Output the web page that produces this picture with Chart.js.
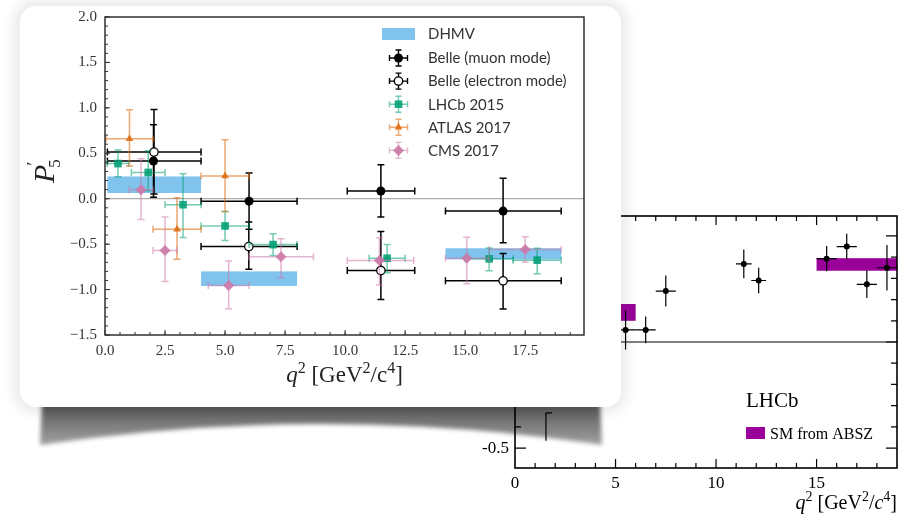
<!DOCTYPE html>
<html>
<head>
<meta charset="utf-8">
<script src="https://cdn.jsdelivr.net/npm/chart.js@4.4.1/dist/chart.umd.min.js"></script>
<style>
  html, body { margin: 0; padding: 0; background: #fff; width: 911px; height: 520px; overflow: hidden; }
  canvas { position: absolute; left: 0; top: 0; }
  #bgChart { z-index: 1; }
  #shadowWrap { position: absolute; left: 40px; top: 401px; width: 562px; height: 46px; filter: blur(2px); z-index: 0; }
  #shadow { width: 100%; height: 100%;
    background: linear-gradient(#474747, #6e6e6e 35%, #a6a6a6);
    clip-path: path('M2,0 L560,0 L562,44 Q281,2 0,44 Z'); }
  #card { position: absolute; left: 20px; top: 6px; width: 601px; height: 401px; background: #fff;
    border-radius: 16px; box-shadow: 0 0 12px 7px rgba(0,0,0,0.08); z-index: 2; }
  #mainChart { z-index: 3; }
</style>
</head>
<body>
<div id="shadowWrap"><div id="shadow"></div></div>
<canvas id="bgChart" width="911" height="520"></canvas>
<div id="card"></div>
<canvas id="mainChart" width="911" height="520"></canvas>

<script>
/* =======================
   DATA - main plot (P5')
======================= */

// DHMV prediction bands
const dhmvLo  = [0.1, 4.0, 14.18];
const dhmvHi  = [4.0, 8.0, 19.0];
const dhmvMin = [0.063, -0.96, -0.668];
const dhmvMax = [0.245, -0.80, -0.545];

// Belle (muon mode)
const muQ2   = [2.02, 6.0, 11.49, 16.58];
const muQ2Lo = [0.1, 4.0, 10.09, 14.18];
const muQ2Hi = [4.0, 8.0, 12.9, 19.0];
const muP5   = [0.415, -0.027, 0.085, -0.136];
const muUp   = [0.40, 0.31, 0.29, 0.36];
const muDn   = [0.40, 0.31, 0.285, 0.35];

// Belle (electron mode)
const elQ2   = [2.04, 5.99, 11.49, 16.58];
const elQ2Lo = [0.1, 4.0, 10.09, 14.18];
const elQ2Hi = [4.0, 8.0, 12.9, 19.0];
const elP5   = [0.513, -0.527, -0.79, -0.904];
const elUp   = [0.47, 0.27, 0.43, 0.30];
const elDn   = [0.46, 0.25, 0.32, 0.31];

// LHCb 2015
const lhcbQ2   = [0.54, 1.8, 3.25, 5.0, 7.0, 11.75, 16.0, 18.0];
const lhcbQ2Lo = [0.1, 1.1, 2.5, 4.0, 6.0, 11.0, 15.0, 17.0];
const lhcbQ2Hi = [0.98, 2.5, 4.0, 6.0, 8.0, 12.5, 17.0, 19.0];
const lhcbP5   = [0.387, 0.289, -0.066, -0.300, -0.505, -0.655, -0.662, -0.676];
const lhcbUp   = [0.15, 0.24, 0.34, 0.16, 0.12, 0.15, 0.12, 0.13];
const lhcbDn   = [0.145, 0.20, 0.36, 0.16, 0.12, 0.16, 0.13, 0.15];

// ATLAS 2017
const atlasQ2   = [1.02, 3.0, 5.0];
const atlasQ2Lo = [0.04, 2.0, 4.0];
const atlasQ2Hi = [2.0, 4.0, 6.0];
const atlasP5   = [0.66, -0.335, 0.25];
const atlasUp   = [0.32, 0.345, 0.40];
const atlasDn   = [0.30, 0.33, 0.39];

// CMS 2017
const cmsQ2   = [1.5, 2.5, 5.15, 7.33, 11.43, 15.07, 17.5];
const cmsQ2Lo = [1.0, 2.0, 4.3, 6.0, 10.09, 14.18, 16.0];
const cmsQ2Hi = [2.0, 3.0, 6.0, 8.68, 12.86, 16.0, 19.0];
const cmsP5   = [0.10, -0.57, -0.955, -0.64, -0.68, -0.655, -0.56];
const cmsUp   = [0.34, 0.37, 0.27, 0.20, 0.25, 0.23, 0.14];
const cmsDn   = [0.33, 0.34, 0.255, 0.23, 0.27, 0.28, 0.14];

/* =======================
   DATA - background LHCb plot
======================= */

const bgQ2    = [5.5, 6.5, 7.5, 11.38, 12.12, 15.5, 16.5, 17.5, 18.5];
const bgQ2Err = [0.5, 0.5, 0.5, 0.39, 0.37, 0.5, 0.5, 0.5, 0.5];
const bgVal   = [0.057, 0.057, 0.24, 0.368, 0.29, 0.393, 0.45, 0.272, 0.35];
const bgErr   = [0.092, 0.063, 0.073, 0.068, 0.06, 0.059, 0.06, 0.065, 0.107];
const bgHidQ2  = [1.54];
const bgHidVal = [-0.40];
const bgHidErr = [0.066];
const smLo  = [4.0, 15.0];
const smHi  = [6.0, 19.0];
const smMin = [0.10, 0.336];
const smMax = [0.179, 0.395];

/* =======================
   CORES / FONTES
======================= */

const C_DHMV = '#80c4ed';
const C_GREEN = 'rgba(0,158,115,0.88)', C_GREEN_E = 'rgba(0,158,115,0.55)';
const C_ORANGE = 'rgba(222,110,20,0.9)', C_ORANGE_E = 'rgba(222,110,20,0.6)';
const C_PINK = 'rgba(204,121,167,0.9)', C_PINK_E = 'rgba(204,121,167,0.55)';
const C_PURPLE = '#990099';
const SERIF = '"Liberation Serif", "DejaVu Serif", serif';
const SANS = 'Lato, "Open Sans", sans-serif';

const pts = (xs, ys) => xs.map((v, i) => ({ x: v, y: ys[i] }));
const fmtTick = v => (v < 0 ? '\u2212' : '') + Math.abs(v).toFixed(1);

function drawErrorBars(ctx, xs, ys, eb) {
  ctx.save();
  ctx.strokeStyle = eb.color;
  ctx.lineWidth = eb.width;
  eb.x.forEach((xv, i) => {
    const px = xs.getPixelForValue(xv);
    const py = ys.getPixelForValue(eb.y[i]);
    const c = eb.cap;
    ctx.beginPath();
    if (eb.xLo) {
      const x0 = xs.getPixelForValue(eb.xLo[i]), x1 = xs.getPixelForValue(eb.xHi[i]);
      ctx.moveTo(x0, py); ctx.lineTo(x1, py);
      if (c) { ctx.moveTo(x0, py - c); ctx.lineTo(x0, py + c); ctx.moveTo(x1, py - c); ctx.lineTo(x1, py + c); }
    }
    const y0 = ys.getPixelForValue(eb.y[i] + eb.up[i]), y1 = ys.getPixelForValue(eb.y[i] - eb.dn[i]);
    ctx.moveTo(px, y0); ctx.lineTo(px, y1);
    if (c) { ctx.moveTo(px - c, y0); ctx.lineTo(px + c, y0); ctx.moveTo(px - c, y1); ctx.lineTo(px + c, y1); }
    if (eb.topCap) { ctx.moveTo(px, y0); ctx.lineTo(px + eb.topCap, y0); }
    ctx.stroke();
  });
  ctx.restore();
}

function drawRuns(ctx, runs, x, baseline, size, family, color, align) {
  const parts = runs.map(r => {
    const fs = r.sup ? size * 0.7 : size;
    const font = (r.italic ? 'italic ' : '') + fs + 'px ' + family;
    ctx.font = font;
    return { t: r.t, font, w: ctx.measureText(r.t).width, dy: r.sup ? -size * 0.4 : 0 };
  });
  const total = parts.reduce((s, p) => s + p.w, 0);
  let cx = align === 'center' ? x - total / 2 : align === 'right' ? x - total : x;
  ctx.fillStyle = color;
  ctx.textAlign = 'left';
  ctx.textBaseline = 'alphabetic';
  parts.forEach(p => { ctx.font = p.font; ctx.fillText(p.t, cx, baseline + p.dy); cx += p.w; });
}

/* =======================
   BACKGROUND LHCb CHART
======================= */

const bgPlugin = {
  id: 'bgLhcb',
  beforeDatasetsDraw(chart) {
    const { ctx, chartArea: a, scales: { x, y } } = chart;
    ctx.save();
    ctx.fillStyle = C_PURPLE;
    smLo.forEach((lo, i) => {
      const x0 = x.getPixelForValue(lo), x1 = x.getPixelForValue(smHi[i]);
      const y0 = y.getPixelForValue(smMax[i]), y1 = y.getPixelForValue(smMin[i]);
      ctx.fillRect(x0, y0, x1 - x0, y1 - y0);
    });
    // linha do zero
    ctx.strokeStyle = '#000';
    ctx.lineWidth = 1.2;
    ctx.beginPath();
    ctx.moveTo(a.left, y.getPixelForValue(0));
    ctx.lineTo(a.right, y.getPixelForValue(0));
    ctx.stroke();
    drawErrorBars(ctx, x, y, { x: bgQ2, xLo: bgQ2.map((v, i) => v - bgQ2Err[i]), xHi: bgQ2.map((v, i) => v + bgQ2Err[i]),
      y: bgVal, up: bgErr, dn: bgErr, color: '#000', width: 1.2, cap: 0 });
    drawErrorBars(ctx, x, y, { x: bgHidQ2, y: bgHidVal, up: bgHidErr, dn: bgHidErr, color: '#000', width: 1.2, cap: 0, topCap: 6 });
    ctx.restore();
  },
  afterDatasetsDraw(chart) {
    const { ctx, chartArea: a, scales: { x, y } } = chart;
    ctx.save();
    ctx.strokeStyle = '#000';
    ctx.lineWidth = 1.6;
    ctx.strokeRect(a.left, a.top, a.right - a.left, a.bottom - a.top);
    ctx.lineWidth = 1.2;
    ctx.beginPath();
    for (let q = 1; q < 19; q++) {
      const px = x.getPixelForValue(q), len = q % 5 === 0 ? 9 : 5;
      ctx.moveTo(px, a.bottom); ctx.lineTo(px, a.bottom - len);
      ctx.moveTo(px, a.top); ctx.lineTo(px, a.top + len);
    }
    for (let k = -5; k <= 5; k++) {
      const py = y.getPixelForValue(k / 10), len = k % 5 === 0 ? 11 : 6;
      ctx.moveTo(a.left, py); ctx.lineTo(a.left + len, py);
      ctx.moveTo(a.right, py); ctx.lineTo(a.right - len, py);
    }
    ctx.stroke();
    ctx.fillStyle = '#000';
    ctx.font = '17px ' + SERIF;
    ctx.textAlign = 'center';
    ctx.textBaseline = 'alphabetic';
    [0, 5, 10, 15].forEach(v => ctx.fillText(String(v), x.getPixelForValue(v), 488));
    ctx.textAlign = 'right';
    ctx.textBaseline = 'middle';
    [-0.5, 0, 0.5].forEach(v => ctx.fillText(v === 0 ? '0' : String(v), a.left - 6, y.getPixelForValue(v)));
    drawRuns(ctx, [{ t: 'q', italic: true }, { t: '2', sup: true }, { t: ' [GeV' }, { t: '2', sup: true },
      { t: '/' }, { t: 'c', italic: true }, { t: '4', sup: true }, { t: ']' }], a.right, 509, 20, SERIF, '#000', 'right');
    ctx.font = '21px ' + SERIF;
    ctx.textAlign = 'left';
    ctx.textBaseline = 'alphabetic';
    ctx.fillStyle = '#000';
    ctx.fillText('LHCb', 746, 407);
    ctx.fillStyle = C_PURPLE;
    ctx.fillRect(746, 427, 19, 12);
    ctx.fillStyle = '#000';
    ctx.font = '16px ' + SERIF;
    ctx.fillText('SM from ABSZ', 770, 439);
    ctx.restore();
  }
};

new Chart(document.getElementById('bgChart'), {
  type: 'scatter',
  data: {
    datasets: [{
      data: pts(bgQ2, bgVal),
      pointStyle: 'circle', pointRadius: 3, backgroundColor: '#000', borderWidth: 0
    }]
  },
  options: {
    responsive: false,
    animation: false,
    layout: { padding: { left: 515, right: 14, top: 216, bottom: 52 } },
    plugins: { legend: { display: false }, tooltip: { enabled: false } },
    scales: {
      x: { type: 'linear', min: 0, max: 19, display: false },
      y: { type: 'linear', min: -0.594, max: 0.594, display: false }
    }
  },
  plugins: [bgPlugin]
});

/* =======================
   MAIN CHART (P5')
======================= */

const legendItems = [
  { label: 'Belle (muon mode)', style: 'circle', r: 4.5, fill: '#000', stroke: '#000', bw: 0, err: '#000' },
  { label: 'Belle (electron mode)', style: 'circle', r: 4.2, fill: '#fff', stroke: '#000', bw: 1.3, err: '#000' },
  { label: 'LHCb 2015', style: 'rect', r: 5.4, fill: C_GREEN, stroke: C_GREEN, bw: 0, err: C_GREEN_E },
  { label: 'ATLAS 2017', style: 'triangle', r: 4.5, fill: C_ORANGE, stroke: C_ORANGE, bw: 0, err: C_ORANGE_E },
  { label: 'CMS 2017', style: 'rectRot', r: 5.5, fill: C_PINK, stroke: C_PINK, bw: 0, err: C_PINK_E }
];

const mainPlugin = {
  id: 'p5main',
  beforeDatasetsDraw(chart) {
    const { ctx, chartArea: a, scales: { x, y } } = chart;
    ctx.save();
    ctx.fillStyle = C_DHMV;
    dhmvLo.forEach((lo, i) => {
      const x0 = x.getPixelForValue(lo), x1 = x.getPixelForValue(dhmvHi[i]);
      const y0 = y.getPixelForValue(dhmvMax[i]), y1 = y.getPixelForValue(dhmvMin[i]);
      ctx.fillRect(x0, y0, x1 - x0, y1 - y0);
    });
    ctx.strokeStyle = '#999';
    ctx.lineWidth = 1;
    ctx.beginPath();
    ctx.moveTo(a.left, y.getPixelForValue(0));
    ctx.lineTo(a.right, y.getPixelForValue(0));
    ctx.stroke();
    ctx.restore();
  },
  beforeDatasetDraw(chart, args) {
    const eb = chart.data.datasets[args.index].errorBars;
    if (eb) drawErrorBars(chart.ctx, chart.scales.x, chart.scales.y, eb);
  },
  afterDatasetsDraw(chart) {
    const { ctx, chartArea: a, scales: { x, y } } = chart;
    ctx.save();
    // moldura
    ctx.strokeStyle = '#222';
    ctx.lineWidth = 1.4;
    ctx.strokeRect(a.left, a.top, a.right - a.left, a.bottom - a.top);
    // ticks para dentro
    ctx.lineWidth = 1;
    ctx.strokeStyle = '#333';
    ctx.beginPath();
    x.ticks.forEach(t => { const px = x.getPixelForValue(t.value); ctx.moveTo(px, a.bottom); ctx.lineTo(px, a.bottom - 5); });
    for (let q = 0.625; q < x.max; q += 0.625) {
      const px = x.getPixelForValue(q); ctx.moveTo(px, a.bottom); ctx.lineTo(px, a.bottom - 3);
    }
    y.ticks.forEach(t => { const py = y.getPixelForValue(t.value); ctx.moveTo(a.left, py); ctx.lineTo(a.left + 5, py); });
    for (let k = -15; k <= 20; k++) {
      const py = y.getPixelForValue(k / 10); ctx.moveTo(a.left, py); ctx.lineTo(a.left + 3, py);
    }
    ctx.stroke();

    // legenda
    const lx = 398.5, tx = 428;
    ctx.fillStyle = C_DHMV;
    ctx.fillRect(382, 28, 33, 12);
    ctx.font = '15px ' + SANS;
    ctx.fillStyle = '#333';
    ctx.textAlign = 'left';
    ctx.textBaseline = 'middle';
    ctx.fillText('DHMV', tx, 34.5);
    legendItems.forEach((it, i) => {
      const ly = 58 + i * 23.1;
      ctx.strokeStyle = it.err;
      ctx.lineWidth = 1.4;
      ctx.beginPath();
      ctx.moveTo(lx - 9, ly); ctx.lineTo(lx + 9, ly);
      ctx.moveTo(lx - 9, ly - 3); ctx.lineTo(lx - 9, ly + 3);
      ctx.moveTo(lx + 9, ly - 3); ctx.lineTo(lx + 9, ly + 3);
      ctx.moveTo(lx, ly - 8); ctx.lineTo(lx, ly + 8);
      ctx.moveTo(lx - 3, ly - 8); ctx.lineTo(lx + 3, ly - 8);
      ctx.moveTo(lx - 3, ly + 8); ctx.lineTo(lx + 3, ly + 8);
      ctx.stroke();
      ctx.fillStyle = it.fill;
      ctx.strokeStyle = it.stroke;
      Chart.helpers.drawPoint(ctx, { pointStyle: it.style, radius: it.r, rotation: 0, borderWidth: it.bw }, lx, ly);
      ctx.fillStyle = '#333';
      ctx.fillText(it.label, tx, ly + 0.5);
    });

    // titulos dos eixos
    drawRuns(ctx, [{ t: 'q', italic: true }, { t: '2', sup: true }, { t: ' [GeV' }, { t: '2', sup: true },
      { t: '/c' }, { t: '4', sup: true }, { t: ']' }], (a.left + a.right) / 2, 382, 23, SERIF, '#222', 'center');

    ctx.translate(54, 183);
    ctx.rotate(-Math.PI / 2);
    ctx.fillStyle = '#222';
    ctx.textAlign = 'left';
    ctx.textBaseline = 'alphabetic';
    ctx.font = 'italic 30px ' + SERIF;
    const wP = ctx.measureText('P').width;
    ctx.fillText('P', 0, 0);
    ctx.font = '19px ' + SERIF;
    ctx.fillText('\u2032', wP - 1, -14);
    ctx.font = '17px ' + SERIF;
    ctx.fillText('5', wP - 3, 6);
    ctx.restore();
  }
};

new Chart(document.getElementById('mainChart'), {
  type: 'scatter',
  data: {
    datasets: [
      {
        label: 'Belle (muon mode)', data: pts(muQ2, muP5), order: 5,
        pointStyle: 'circle', pointRadius: 4.5, backgroundColor: '#000', borderColor: '#000', borderWidth: 0,
        errorBars: { x: muQ2, xLo: muQ2Lo, xHi: muQ2Hi, y: muP5, up: muUp, dn: muDn, color: '#000', width: 1.5, cap: 3.5 }
      },
      {
        label: 'Belle (electron mode)', data: pts(elQ2, elP5), order: 4,
        pointStyle: 'circle', pointRadius: 4.2, backgroundColor: '#fff', borderColor: '#000', borderWidth: 1.3,
        errorBars: { x: elQ2, xLo: elQ2Lo, xHi: elQ2Hi, y: elP5, up: elUp, dn: elDn, color: '#000', width: 1.5, cap: 3.5 }
      },
      {
        label: 'LHCb 2015', data: pts(lhcbQ2, lhcbP5), order: 3,
        pointStyle: 'rect', pointRadius: 5.4, backgroundColor: C_GREEN, borderWidth: 0,
        errorBars: { x: lhcbQ2, xLo: lhcbQ2Lo, xHi: lhcbQ2Hi, y: lhcbP5, up: lhcbUp, dn: lhcbDn, color: C_GREEN_E, width: 1.5, cap: 3.5 }
      },
      {
        label: 'ATLAS 2017', data: pts(atlasQ2, atlasP5), order: 2,
        pointStyle: 'triangle', pointRadius: 4.5, backgroundColor: C_ORANGE, borderWidth: 0,
        errorBars: { x: atlasQ2, xLo: atlasQ2Lo, xHi: atlasQ2Hi, y: atlasP5, up: atlasUp, dn: atlasDn, color: C_ORANGE_E, width: 1.5, cap: 3.5 }
      },
      {
        label: 'CMS 2017', data: pts(cmsQ2, cmsP5), order: 1,
        pointStyle: 'rectRot', pointRadius: 5.5, backgroundColor: C_PINK, borderWidth: 0,
        errorBars: { x: cmsQ2, xLo: cmsQ2Lo, xHi: cmsQ2Hi, y: cmsP5, up: cmsUp, dn: cmsDn, color: C_PINK_E, width: 1.5, cap: 3.5 }
      }
    ]
  },
  options: {
    responsive: false,
    animation: false,
    layout: { padding: { left: 0, right: 327, top: 14, bottom: 0 } },
    plugins: { legend: { display: false }, tooltip: { enabled: false } },
    scales: {
      x: {
        type: 'linear', min: 0, max: 19.95,
        afterFit: s => { s.height = 185; },
        grid: { display: false, drawTicks: false }, border: { display: false },
        ticks: { stepSize: 2.5, includeBounds: false, padding: 7, maxRotation: 0, color: '#333',
          font: { family: SERIF, size: 15 }, callback: v => fmtTick(v) }
      },
      y: {
        type: 'linear', min: -1.5, max: 2.0,
        afterFit: s => { s.width = 105; },
        grid: { display: false, drawTicks: false }, border: { display: false },
        ticks: { stepSize: 0.5, padding: 8, color: '#333',
          font: { family: SERIF, size: 15 }, callback: v => fmtTick(v) }
      }
    }
  },
  plugins: [mainPlugin]
});
</script>
</body>
</html>
